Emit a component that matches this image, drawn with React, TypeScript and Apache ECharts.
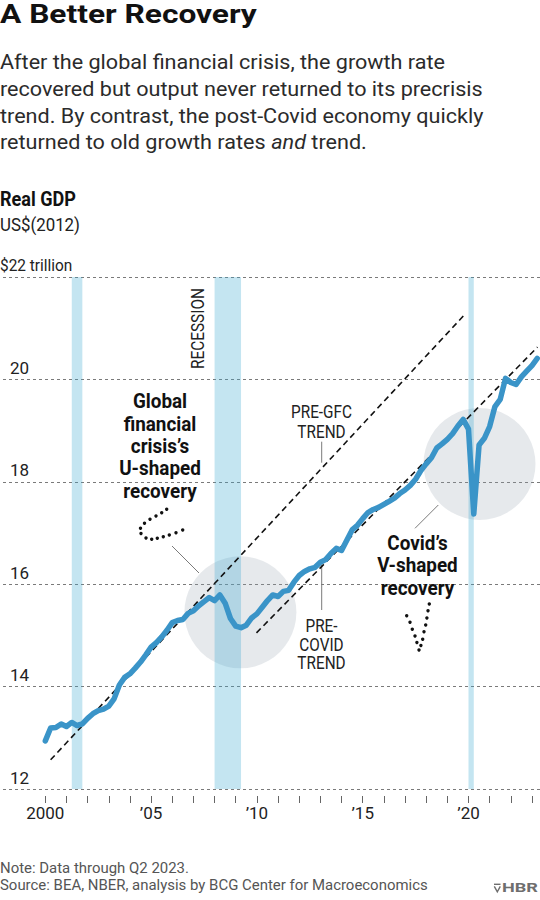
import React, { useEffect, useRef } from 'react';
import * as echarts from 'echarts';

const SANS = "Roboto, 'Noto Sans', sans-serif";

// Real GDP, US$ trillions (2012), quarterly from Q1 2000 through Q2 2023
const firstYear = 2000;
const gdpTrillions = [
  12.94, 13.19, 13.2, 13.27,
  13.22, 13.3, 13.24, 13.27,
  13.38, 13.47, 13.53, 13.56,
  13.62, 13.76, 14.03, 14.18,
  14.25, 14.36, 14.48, 14.62,
  14.77, 14.86, 14.97, 15.1,
  15.25, 15.29, 15.31, 15.43,
  15.48, 15.58, 15.66, 15.74,
  15.68, 15.79, 15.63, 15.33,
  15.18, 15.15, 15.2, 15.34,
  15.42, 15.55, 15.68, 15.79,
  15.76, 15.86, 15.88, 16.04,
  16.17, 16.25, 16.3, 16.33,
  16.43, 16.48, 16.6, 16.7,
  16.66, 16.86, 17.06, 17.15,
  17.28, 17.4, 17.46, 17.5,
  17.56, 17.62, 17.68, 17.77,
  17.84, 17.93, 18.05, 18.22,
  18.35, 18.47, 18.66, 18.74,
  18.83, 18.94, 19.09, 19.22,
  19.03, 17.37, 18.72, 18.85,
  19.08, 19.47, 19.61, 20.02,
  19.94, 19.9, 20.05, 20.16,
  20.27, 20.41,
];

const tickYears = [2000, 2001, 2002, 2003, 2004, 2005, 2006, 2007, 2008, 2009, 2010, 2011,
  2012, 2013, 2014, 2015, 2016, 2017, 2018, 2019, 2020, 2021, 2022, 2023];
const labelYears = [2000, 2005, 2010, 2015, 2020];
const yMin = 12;
const yMax = 22;
const yStep = 2;

// NBER recessions (start, end) in fractional years
const recessions = [
  [2001.25, 2001.75],
  [2008.0, 2009.25],
  [2020.0, 2020.25],
];

const preGfcTrend = [[2000.25, 12.57], [2019.85, 21.28]];
const preCovidTrend = [[2009.98, 15.05], [2023.26, 20.63]];
const highlightCircles = [[2009.22, 15.45], [2020.52, 18.35]];

const gfcDots = [
  [166.7, 509.3], [161.7, 512.7], [156, 516], [150, 519.3], [144.5, 523.3], [140.5, 528.3],
  [141, 533.5], [146, 538], [151.7, 539.3], [157.3, 538.3], [163.3, 536.7], [169.3, 535],
  [176, 532.7], [182.7, 530],
];
const covidDots = [
  [406.7, 615.7], [410, 622.3], [412.3, 629.3], [415, 636], [416.9, 642.5], [419, 650],
  [420.9, 645.5], [422.7, 639.3], [424, 631.7], [425.7, 625], [426.9, 618], [428, 610.7],
  [429.3, 604],
];

let measureCtx: CanvasRenderingContext2D | null = null;
function textWidth(text: string, font: string) {
  if (!measureCtx) measureCtx = document.createElement('canvas').getContext('2d');
  measureCtx!.font = font;
  return measureCtx!.measureText(text).width;
}
function fit(sample: string, font: string, target: number) {
  const w = textWidth(sample, font);
  return w > 0 ? target / w : 1;
}

function txt(x: number, y: number, text: string, font: string, fill = '#222', align = 'left', scaleX = 1, extra: any = {}) {
  return {
    type: 'text',
    x,
    y,
    scaleX,
    silent: true,
    ...extra,
    style: {
      text,
      font,
      fill,
      align,
      textAlign: align,
      verticalAlign: 'middle',
      textVerticalAlign: 'middle',
    },
  };
}

function lines(x: number, y0: number, lh: number, arr: string[], font: string, fill: string, scaleX: number) {
  return arr.map((s, i) => txt(x, y0 + i * lh, s, font, fill, 'center', scaleX));
}

function seg(x1: number, y1: number, x2: number, y2: number) {
  return { type: 'line', silent: true, shape: { x1, y1, x2, y2 }, style: { stroke: '#7a7a7a', lineWidth: 1 } };
}

function dots(pts: number[][]) {
  return pts.map(([cx, cy]) => ({ type: 'circle', silent: true, shape: { cx, cy, r: 1.7 }, style: { fill: '#111' } }));
}

export default function App() {
  const ref = useRef<HTMLDivElement>(null);

  useEffect(() => {
    document.body.style.margin = '0';
    const chart = echarts.init(ref.current!, null, { renderer: 'svg' });
    const gdpPoints = gdpTrillions.map((v, i) => [firstYear + i / 4, v]);

    chart.setOption({
      animation: false,
      backgroundColor: '#fff',
      grid: { left: 0, right: 0, top: 277, height: 512 },
      xAxis: {
        type: 'value',
        min: 1998,
        max: 2023.38,
        offset: 7,
        axisLine: { show: false },
        splitLine: { show: false },
        axisTick: { show: true, length: 7, customValues: tickYears, lineStyle: { color: '#666', width: 1 } },
        axisLabel: {
          customValues: labelYears,
          margin: 8,
          fontFamily: SANS,
          fontSize: 17,
          color: '#222',
          formatter: (v: number) => (v === 2000 ? '2000' : '\u2019' + String(v).slice(2)),
        },
      },
      yAxis: {
        type: 'value',
        min: yMin,
        max: yMax,
        interval: yStep,
        axisLine: { show: false },
        axisTick: { show: false },
        splitLine: { show: true, lineStyle: { color: '#7a7a7a', type: [3, 3], width: 1 } },
        axisLabel: {
          inside: true,
          margin: 0,
          verticalAlign: 'bottom',
          padding: [0, 0, 3, 0],
          formatter: (v: number) => (v === yMax ? '' : `{b|${v}}`),
          rich: {
            b: { fontFamily: SANS, fontSize: 17, color: '#222', width: 26, align: 'right' },
          },
        },
      },
      series: [
        {
          type: 'scatter',
          silent: true,
          z: 1,
          symbol: 'circle',
          symbolSize: 112,
          itemStyle: { color: 'rgba(150,165,175,0.3)' },
          data: highlightCircles,
        },
        {
          type: 'custom',
          silent: true,
          z: 2,
          data: recessions.map(([s, e]) => [s, e, yMin, yMax]),
          encode: { x: [0, 1], y: [2, 3] },
          renderItem: (params: any, api: any) => {
            const p1 = api.coord([api.value(0), api.value(3)]);
            const p2 = api.coord([api.value(1), api.value(2)]);
            return {
              type: 'rect',
              shape: { x: p1[0], y: p1[1], width: p2[0] - p1[0], height: p2[1] - p1[1] },
              style: { fill: 'rgba(58,169,207,0.3)' },
            };
          },
        },
        {
          type: 'line',
          silent: true,
          z: 3,
          symbol: 'none',
          data: preGfcTrend,
          lineStyle: { color: '#111', width: 1.6, type: [6, 4] },
        },
        {
          type: 'line',
          silent: true,
          z: 3,
          symbol: 'none',
          data: preCovidTrend,
          lineStyle: { color: '#111', width: 1.6, type: [6, 4] },
        },
        {
          type: 'line',
          silent: true,
          z: 4,
          symbol: 'none',
          data: gdpPoints,
          lineStyle: { color: '#3a94c8', width: 5.5, cap: 'round', join: 'round' },
        },
      ],
    });

    const fTitle = `bold 26px ${SANS}`;
    const fSub = `20px ${SANS}`;
    const fSubI = `italic 20px ${SANS}`;
    const fHead = `bold 19.5px ${SANS}`;
    const fUnit = `18.5px ${SANS}`;
    const fRec = `19px ${SANS}`;
    const fNote = `19px ${SANS}`;
    const fBold = `bold 19.5px ${SANS}`;
    const fTick = `17px ${SANS}`;
    const fFoot = `14px ${SANS}`;
    const fLogo = `bold 12px ${SANS}`;

    const sTitle = fit('A Better Recovery', fTitle, 257);
    const sSub = fit('recovered but output never returned to its precrisis', fSub, 483);
    const sHead = fit('Real GDP', fHead, 76);
    const sUnit = fit('US$(2012)', fUnit, 80);
    const sRec = fit('RECESSION', fRec, 81);
    const sNote = fit('PRE-GFC', fNote, 61);
    const sBold = fit('U-shaped', fBold, 81.7);
    const sTick = fit('$22 trillion', fTick, 72.3);
    const sFoot = fit('Source: BEA, NBER, analysis by BCG Center for Macroeconomics', fFoot, 428);
    const sLogo = fit('HBR', fLogo, 36);

    const y22 = chart.convertToPixel({ yAxisIndex: 0 }, yMax) as number;

    const graphic: any[] = [
      txt(0, 14, 'A Better Recovery', fTitle, '#111', 'left', sTitle),
      txt(0, 62.5, 'After the global financial crisis, the growth rate', fSub, '#2b2b2b', 'left', sSub),
      txt(0, 89, 'recovered but output never returned to its precrisis', fSub, '#2b2b2b', 'left', sSub),
      txt(0, 115.8, 'trend. By contrast, the post-Covid economy quickly', fSub, '#2b2b2b', 'left', sSub),
      {
        type: 'text', x: 0, y: 142.5, scaleX: sSub, silent: true,
        style: {
          text: '{n|returned to old growth rates }{i|and}{n| trend.}',
          align: 'left', textAlign: 'left', verticalAlign: 'middle', textVerticalAlign: 'middle',
          rich: {
            n: { font: fSub, fill: '#2b2b2b', color: '#2b2b2b' },
            i: { font: fSubI, fill: '#2b2b2b', color: '#2b2b2b' },
          },
        },
      },
      txt(0, 200, 'Real GDP', fHead, '#111', 'left', sHead),
      txt(0, 225, 'US$(2012)', fUnit, '#222', 'left', sUnit),
      txt(0, y22 - 12, '$22 trillion', fTick, '#222', 'left', sTick),
      txt(197, 328.5, 'RECESSION', fRec, '#222', 'center', sRec, { rotation: Math.PI / 2 }),
      ...lines(160, 401.7, 22.3, ['Global', 'financial', 'crisis\u2019s', 'U-shaped', 'recovery'], fBold, '#111', sBold),
      ...lines(417.5, 543.3, 22.5, ['Covid\u2019s', 'V-shaped', 'recovery'], fBold, '#111', sBold),
      ...lines(321.5, 411.7, 19.3, ['PRE-GFC', 'TREND'], fNote, '#222', sNote),
      ...lines(321.5, 625, 18.9, ['PRE-', 'COVID', 'TREND'], fNote, '#222', sNote),
      seg(172, 546, 199, 573),
      seg(321.7, 441.7, 321.7, 462.7),
      seg(321.7, 565, 321.7, 610),
      seg(415, 528.3, 438.3, 505),
      ...dots(gfcDots),
      ...dots(covidDots),
      txt(0, 868.5, 'Note: Data through Q2 2023.', fFoot, '#555', 'left', sFoot),
      txt(0, 886, 'Source: BEA, NBER, analysis by BCG Center for Macroeconomics', fFoot, '#555', 'left', sFoot),
      {
        type: 'polyline', silent: true,
        shape: { points: [[494, 884.3], [500.5, 884.3]] },
        style: { stroke: '#6e6e6e', lineWidth: 1.4, fill: null },
      },
      {
        type: 'polyline', silent: true,
        shape: { points: [[494.3, 886.3], [497.3, 891.8], [500.3, 886.3]] },
        style: { stroke: '#6e6e6e', lineWidth: 1.4, fill: null },
      },
      txt(502, 888, 'HBR', fLogo, '#6e6e6e', 'left', sLogo),
    ];

    chart.setOption({ graphic });
    return () => chart.dispose();
  }, []);

  return (
    <div style={{ position: 'absolute', left: 0, top: 0, width: 540, height: 900, background: '#fff' }}>
      <div ref={ref} style={{ width: 540, height: 900 }} />
    </div>
  );
}
